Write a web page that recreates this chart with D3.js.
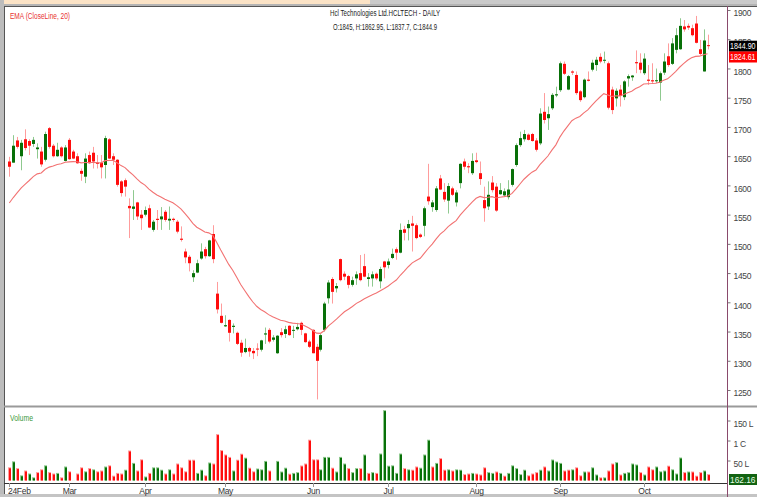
<!DOCTYPE html>
<html>
<head>
<meta charset="utf-8">
<script src="https://cdn.jsdelivr.net/npm/d3@7"></script>
<style>
  body { margin: 0; background: #fff; }
  svg { display: block; font-family: "Liberation Sans", Arial, sans-serif; }
</style>
</head>
<body>
<div id="chart"></div>
<script>
// ---- data ----
const monthLabels = ["24Feb", "Mar", "Apr", "May", "Jun", "Jul", "Aug", "Sep", "Oct"];
const monthStart = [0, 15, 34, 54, 76, 95, 117, 138, 159];

const opens = [1646,1644,1682,1655,1684,1681,1676,1667,1663,1649,1703,1673,1655,1670,1647,1683,1663,1655,1630,1620,
  1657,1661,1644,1644,1640,1684,1655,1649,1612,1614,1570,1565,1576,1555,1555,1566,1529,1548,1547,1560,
  1545,1548,1543,1514,1492,1483,1448,1456,1480,1496,1484,1522,1420,1382,1364,1375,1363,1353,1336,1320,
  1327,1322,1326,1324,1350,1358,1341,1318,1354,1351,1365,1357,1359,1370,1352,1338,1358,1329,1324,1358,
  1412,1445,1429,1479,1454,1450,1435,1446,1455,1467,1445,1446,1454,1441,1475,1469,1481,1496,1490,1530,
  1532,1540,1537,1521,1536,1586,1568,1563,1617,1594,1579,1600,1576,1609,1646,1638,1626,1648,1626,1580,
  1569,1610,1603,1590,1588,1585,1606,1640,1674,1684,1692,1693,1682,1677,1731,1720,1737,1759,1768,1813,
  1769,1800,1794,1766,1756,1786,1803,1811,1825,1819,1814,1769,1754,1769,1756,1788,1790,1816,1815,1797,
  1786,1785,1784,1781,1798,1826,1813,1837,1838,1877,1878,1874,1882,1838,1800,1845];
const highs = [1654,1691,1688,1683,1701,1684,1688,1677,1671,1697,1705,1676,1678,1672,1674,1686,1666,1660,1634,1660,
  1663,1671,1657,1657,1690,1686,1660,1650,1614,1617,1583,1597,1577,1563,1569,1572,1546,1563,1568,1563,
  1569,1550,1546,1535,1497,1486,1460,1478,1506,1500,1512,1537,1440,1403,1383,1376,1369,1355,1341,1343,
  1329,1327,1335,1341,1362,1361,1349,1349,1361,1365,1366,1365,1370,1372,1353,1341,1359,1334,1352,1406,
  1443,1448,1438,1480,1458,1452,1449,1458,1486,1488,1455,1458,1456,1466,1476,1480,1497,1499,1540,1536,
  1546,1553,1540,1523,1569,1642,1580,1604,1623,1609,1609,1603,1597,1643,1651,1643,1660,1661,1646,1603,
  1612,1621,1609,1609,1600,1614,1634,1677,1697,1700,1694,1695,1686,1737,1763,1740,1763,1774,1817,1817,
  1794,1802,1800,1768,1788,1800,1820,1825,1831,1834,1817,1774,1771,1777,1785,1795,1794,1836,1831,1831,
  1811,1814,1805,1800,1831,1848,1857,1874,1891,1888,1882,1880,1895,1854,1872,1862.95];
const lows = [1620,1644,1668,1631,1665,1657,1671,1651,1637,1646,1668,1653,1654,1653,1646,1649,1650,1642,1613,1609,
  1642,1634,1634,1617,1617,1650,1640,1603,1586,1586,1515,1546,1546,1529,1552,1532,1526,1529,1529,1543,
  1529,1543,1523,1509,1472,1458,1440,1455,1478,1480,1483,1472,1386,1369,1363,1338,1352,1332,1312,1318,
  1312,1308,1313,1321,1334,1335,1338,1317,1345,1344,1348,1344,1357,1349,1336,1327,1318,1239,1321,1355,
  1403,1403,1422,1441,1443,1429,1432,1435,1441,1448,1432,1432,1443,1429,1446,1463,1479,1478,1489,1511,
  1511,1492,1513,1515,1518,1572,1560,1560,1597,1577,1557,1587,1569,1600,1632,1626,1623,1643,1606,1543,
  1563,1593,1560,1589,1586,1581,1603,1637,1671,1680,1682,1680,1663,1674,1711,1700,1734,1756,1765,1794,
  1768,1794,1760,1748,1754,1783,1800,1801,1814,1814,1735,1727,1740,1740,1751,1774,1784,1797,1797,1794,
  1777,1780,1780,1750,1794,1808,1811,1831,1837,1868,1871,1860,1848,1828,1800,1837.7];
const closes = [1637,1673,1671,1678,1669,1673,1683,1670,1641,1693,1671,1655,1666,1655,1670,1650,1651,1643,1625,1651,
  1643,1646,1642,1636,1686,1651,1649,1606,1592,1603,1566,1569,1552,1549,1563,1533,1543,1546,1552,1546,
  1548,1546,1526,1512,1482,1472,1455,1472,1492,1484,1511,1479,1393,1370,1366,1353,1365,1334,1319,1327,
  1321,1318,1325,1340,1352,1338,1345,1348,1349,1359,1349,1358,1363,1358,1337,1329,1318,1305,1349,1403,
  1439,1423,1433,1443,1449,1435,1443,1453,1443,1449,1448,1453,1446,1462,1465,1475,1488,1490,1529,1524,
  1539,1536,1515,1517,1566,1578,1576,1600,1598,1581,1604,1589,1593,1642,1637,1636,1647,1645,1616,1566,
  1589,1597,1562,1597,1595,1598,1633,1674,1686,1693,1683,1681,1666,1728,1717,1727,1760,1761,1814,1796,
  1792,1798,1763,1751,1786,1784,1815,1820,1817,1820,1738,1734,1767,1758,1783,1792,1793,1814,1803,1822,
  1784,1783,1785,1797,1817,1811,1848,1862,1878,1872,1875,1862,1849,1830,1853,1844.9];
// volume in lakh shares
const volumes = [33,48,31,13,25,17.5,8,21,28,38,21,17.5,19,8,35,23,0.3,17.5,33,23,
  31,28,23,25,35,38,12,19,17.5,27,75,44,25,53,10,19,33,33,27,17.5,
  28,17.5,42.5,33,23,52,52,19,27,13,45,42.5,116,76,65,59,25,52,67,57,
  32,23,30,28,49,25,0.3,49,22.5,32,17,19,21,37.5,42.5,102,53,53,28,59,
  59,32,22.5,59,42.5,31,21,31,31,65,19,21,19,67.5,176,37,38,19,67.5,31,
  28,27,35,32,65,102,35,44,56,27,28,25,28,27,16,17.5,19,17.5,15,33,
  21,19,22.5,19,12,19,38,31,16,27,13,17.5,21,27,35,25,52.5,47.5,44,25,
  27,28,33,13,22.5,22.5,33,15,8,8,25,42.5,46,15,19,21,42.5,40,21,15,
  35,28,35,23,25,37,28,17.5,57.5,21,22.5,22.5,12,21,25,16];

const emaStart = 1575;     // EMA value shown at the first candle
const emaPeriod = 20;
const priceTicks = [1250,1300,1350,1400,1450,1500,1550,1600,1650,1700,1750,1800,1850,1900];
const volTicks = [50, 100, 150];
const volTickLabels = ["50 L", "1 C", "150 L"];

const lastPrice = "1844.90";
const lastEma = "1824.61";
const lastVolLabel = "162.16";

// ---- colours ----
const upColor = "#087008";
const downColor = "#ff0d0d";
const upWick = "#8fc98f";
const downWick = "#ff9c9c";

function drawChart() {
  const W = 757, H = 497;
  const axisX = 727.5;

  const svg = d3.select("#chart").append("svg")
    .attr("width", W)
    .attr("height", H);

  // window chrome
  svg.append("rect").attr("width", W).attr("height", H).attr("fill", "#fff");
  svg.append("rect").attr("x", 0).attr("y", 0).attr("width", 370).attr("height", 4).attr("fill", "#fbe3c6");
  svg.append("rect").attr("x", 370).attr("y", 0).attr("width", W - 370).attr("height", 4).attr("fill", "#cacaca");
  svg.append("rect").attr("x", 0).attr("y", 4).attr("width", W).attr("height", 2).attr("fill", "#b4b4b4");
  svg.append("rect").attr("x", 0).attr("y", 0).attr("width", 4).attr("height", H).attr("fill", "#bcbcbc");
  svg.append("rect").attr("x", 0).attr("y", 494).attr("width", W).attr("height", 3).attr("fill", "#c4c4c4");

  // scales
  const n = closes.length;
  const x = d3.scaleLinear().domain([0, n - 1]).range([9.3, 707.5]);
  const y = d3.scaleLinear().domain([1250, 1900]).range([393, 13]);
  const yv = d3.scaleLinear().domain([0, 150]).range([480.5, 420.5]);
  const px = i => Math.round(x(i)) + 0.5;

  // panel borders
  svg.append("line").attr("x1", 4).attr("x2", W).attr("y1", 6.5).attr("y2", 6.5).attr("stroke", "#555");
  svg.append("line").attr("x1", 4.5).attr("x2", 4.5).attr("y1", 6).attr("y2", 494).attr("stroke", "#555");
  svg.append("line").attr("x1", 4).attr("x2", W).attr("y1", 406.5).attr("y2", 406.5).attr("stroke", "#9a9a9a").attr("stroke-width", 2);
  svg.append("line").attr("x1", 4).attr("x2", axisX).attr("y1", 483.5).attr("y2", 483.5).attr("stroke", "#333");

  // EMA series
  const k = 2 / (emaPeriod + 1);
  const ema = [emaStart];
  for (let i = 1; i < n; i++) ema.push(ema[i - 1] + k * (closes[i] - ema[i - 1]));

  const price = svg.append("g");

  // wicks
  price.selectAll(".wick")
    .data(d3.range(n))
    .enter()
    .append("line")
    .attr("class", "wick")
    .attr("x1", i => px(i))
    .attr("x2", i => px(i))
    .attr("y1", i => y(highs[i]))
    .attr("y2", i => y(lows[i]))
    .attr("stroke", i => closes[i] > opens[i] ? upWick : downWick)
    .attr("stroke-width", 1);

  // bodies
  price.selectAll(".body")
    .data(d3.range(n))
    .enter()
    .append("rect")
    .attr("class", "body")
    .attr("x", i => px(i) - 1.5)
    .attr("width", 3)
    .attr("y", i => y(Math.max(opens[i], closes[i])))
    .attr("height", i => Math.max(1, Math.abs(y(opens[i]) - y(closes[i]))))
    .attr("fill", i => closes[i] > opens[i] ? upColor : downColor);

  // EMA line
  price.append("path")
    .datum(ema)
    .attr("fill", "none")
    .attr("stroke", "#f27272")
    .attr("stroke-width", 1.1)
    .attr("d", d3.line().x((d, i) => x(i)).y(d => y(d)));

  // volume bars (coloured by close vs previous close)
  const volColor = i => (i === 0 ? closes[i] >= opens[i] : closes[i] >= closes[i - 1]) ? upColor : downColor;
  const volPale = i => volColor(i) === upColor ? upWick : downWick;
  const vol = svg.append("g");
  vol.selectAll(".vpale")
    .data(d3.range(n))
    .enter()
    .append("rect")
    .attr("x", i => px(i) - 1.5)
    .attr("width", 3)
    .attr("y", i => yv(volumes[i]))
    .attr("height", i => yv(0) - yv(volumes[i]))
    .attr("fill", volPale);
  vol.selectAll(".vbar")
    .data(d3.range(n))
    .enter()
    .append("rect")
    .attr("x", i => px(i) - 0.5)
    .attr("width", 2)
    .attr("y", i => yv(volumes[i]) + 1)
    .attr("height", i => Math.max(0, yv(0) - yv(volumes[i]) - 1))
    .attr("fill", volColor);

  // right price axis
  const yAxis = svg.append("g")
    .attr("transform", `translate(${axisX},0)`)
    .call(d3.axisRight(y).tickValues(priceTicks).tickSize(3).tickPadding(3).tickFormat(d3.format("d")));
  yAxis.select(".domain").remove();
  yAxis.selectAll(".tick line").attr("y1", -3).attr("y2", -3).attr("stroke", "#777");
  yAxis.selectAll("text").attr("fill", "#444").style("font-size", "8.5px").attr("letter-spacing", "-0.3");

  // volume axis
  const vAxis = svg.append("g")
    .attr("transform", `translate(${axisX},0)`)
    .call(d3.axisRight(yv).tickValues(volTicks).tickSize(3).tickPadding(3)
      .tickFormat((d, i) => volTickLabels[i]));
  vAxis.select(".domain").remove();
  vAxis.selectAll(".tick line").attr("stroke", "#777");
  vAxis.selectAll("text").attr("fill", "#444").attr("dy", "0.65em").style("font-size", "8.5px").attr("letter-spacing", "-0.3");

  // axis line
  svg.append("line").attr("x1", axisX).attr("x2", axisX).attr("y1", 6).attr("y2", H)
    .attr("stroke", "#8a4a6c");

  // month ticks and labels
  const months = svg.append("g");
  months.selectAll("line")
    .data(monthStart)
    .enter()
    .append("line")
    .attr("x1", d => px(d)).attr("x2", d => px(d))
    .attr("y1", 483).attr("y2", 487)
    .attr("stroke", "#999");
  months.selectAll("text")
    .data(monthStart)
    .enter()
    .append("text")
    .attr("x", (d, i) => i === 0 ? 8 : px(d))
    .attr("y", 494)
    .attr("text-anchor", (d, i) => i === 0 ? "start" : "middle")
    .attr("fill", "#333")
    .style("font-size", "8.5px")
    .attr("letter-spacing", "-0.3")
    .text((d, i) => monthLabels[i]);

  // value boxes on the axis (drawn over the axis labels)
  function valueBox(yc, bg, fg, label) {
    svg.append("rect").attr("x", 729).attr("y", yc - 5.5).attr("width", 28).attr("height", 11).attr("fill", bg);
    svg.append("text").attr("x", 730).attr("y", yc + 3.2).attr("fill", fg)
      .style("font-size", "8.5px").attr("textLength", 25.5).attr("lengthAdjust", "spacingAndGlyphs")
      .text(label);
  }
  valueBox(46.2, "#000", "#fff", lastPrice);
  valueBox(57, "#f00", "#fff", lastEma);
  valueBox(479.5, "#126312", "#e8ffe8", lastVolLabel);

  // legends and title
  svg.append("text").attr("x", 10).attr("y", 19).attr("fill", "#e83030")
    .style("font-size", "8.5px").attr("textLength", 60).attr("lengthAdjust", "spacingAndGlyphs")
    .text("EMA (CloseLine, 20)");
  svg.append("text").attr("x", 330).attr("y", 16).attr("fill", "#222")
    .style("font-size", "8.5px").attr("textLength", 110).attr("lengthAdjust", "spacingAndGlyphs")
    .text("Hcl Technologies Ltd.HCLTECH - DAILY");
  svg.append("text").attr("x", 333).attr("y", 30).attr("fill", "#222")
    .style("font-size", "8.5px").attr("textLength", 104).attr("lengthAdjust", "spacingAndGlyphs")
    .text("O:1845, H:1862.95, L:1837.7, C:1844.9");
  svg.append("text").attr("x", 10).attr("y", 421).attr("fill", "#3d993d")
    .style("font-size", "8.5px").attr("textLength", 23).attr("lengthAdjust", "spacingAndGlyphs")
    .text("Volume");
}

drawChart();
</script>
</body>
</html>
